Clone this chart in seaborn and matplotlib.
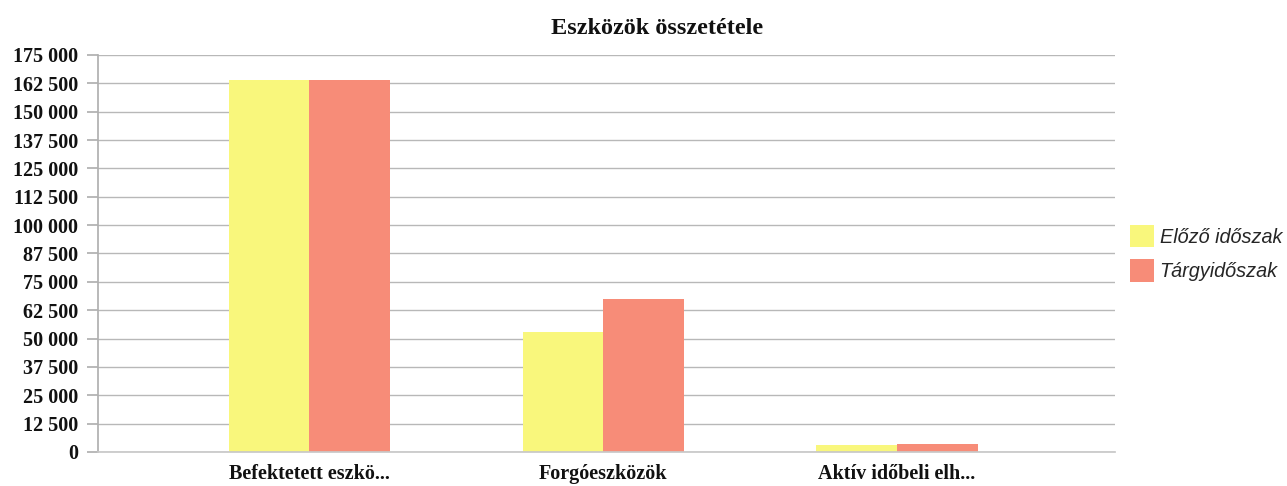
import matplotlib
matplotlib.use("Agg")
import matplotlib.pyplot as plt
import seaborn as sns
import pandas as pd
from matplotlib.ticker import FuncFormatter, MultipleLocator

categories = ["Befektetett eszkö...", "Forgóeszközök", "Aktív időbeli elh..."]
series_names = ["Előző időszak", "Tárgyidőszak"]
elozo = [163800, 53000, 2900]
targy = [164000, 67300, 3400]
colors = ["#F9F77C", "#F78C78"]

df = pd.DataFrame({
    "cat": categories * 2,
    "series": [series_names[0]] * 3 + [series_names[1]] * 3,
    "value": elozo + targy,
})

sns.set_theme(style="white")
plt.rcParams["font.family"] = ["Liberation Serif", "DejaVu Serif"]

fig = plt.figure(figsize=(12.87, 4.86), dpi=100)
ax = fig.add_axes([0.0761, 0.07, 0.7899, 0.817])

sns.barplot(data=df, x="cat", y="value", hue="series", palette=colors,
            width=0.55, ax=ax, saturation=1, legend=True, linewidth=0)

ax.set_xlim(-0.72, 2.74)
ax.set_ylim(0, 175000)
ax.yaxis.set_major_locator(MultipleLocator(12500))
ax.yaxis.set_major_formatter(FuncFormatter(lambda v, p: f"{int(v):,}".replace(",", " ")))
ax.grid(axis="y", color="#b8b8b8", linewidth=1)
ax.set_axisbelow(True)
for s in ["top", "right"]:
    ax.spines[s].set_visible(False)
ax.spines["left"].set_color("#b0b0b0")
ax.spines["bottom"].set_color("#c8c8c8")
ax.tick_params(axis="y", length=8, color="#b0b0b0", left=True, pad=6)
ax.tick_params(axis="x", length=0, pad=9)
for lab in ax.get_yticklabels():
    lab.set_fontweight("bold")
    lab.set_fontsize(14.5)
    lab.set_color("#111111")
for lab in ax.get_xticklabels():
    lab.set_fontweight("bold")
    lab.set_fontsize(14.5)
    lab.set_color("#111111")
ax.set_xlabel("")
ax.set_ylabel("")
fig.text(657 / 1287, 1 - 28 / 486, "Eszközök összetétele", fontsize=17.5,
         fontweight="bold", ha="center", va="center", color="#111111")

leg = ax.legend(loc="center left", bbox_to_anchor=(1.015, 0.5), frameon=False,
                borderaxespad=0, borderpad=0,
                prop={"family": "Liberation Sans", "style": "italic", "size": 14.3},
                handlelength=1.2, handleheight=1.4, handletextpad=0.3, labelspacing=0.6)

fig.savefig("out.png", dpi=100, facecolor="white")
